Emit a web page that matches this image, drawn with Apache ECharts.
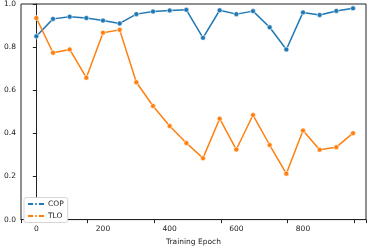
<!DOCTYPE html>
<html><head><meta charset="utf-8">
<script src="https://cdn.jsdelivr.net/npm/echarts@6/dist/echarts.min.js"></script>
<style>html,body{margin:0;padding:0;background:#fff}#c{width:374px;height:251px}</style>
</head><body><div id="c"></div>
<script>
const epochs = [0,50,100,150,200,250,300,350,400,450,500,550,600,650,700,750,800,850,900,950];
const cop = [0.850,0.931,0.941,0.935,0.923,0.910,0.953,0.965,0.970,0.973,0.843,0.971,0.953,0.967,0.892,0.789,0.961,0.949,0.968,0.980];
const tlo = [0.935,0.774,0.789,0.658,0.867,0.880,0.637,0.527,0.434,0.355,0.285,0.468,0.325,0.485,0.346,0.213,0.413,0.324,0.336,0.401];
const xTicks = [0,200,400,600,800];
const yTicks = [0,0.2,0.4,0.6,0.8,1.0];

const font = 'DejaVu Sans';
const chart = echarts.init(document.getElementById('c'), null, {renderer:'canvas'});
function mk(name, vals, color){
  return {name, type:'line', data: epochs.map((e,i)=>[e, vals[i]]),
    symbol:'circle', symbolSize:5, showSymbol:true,
    lineStyle:{color, width:1.5}, itemStyle:{color, borderColor:'#fff', borderWidth:0.6},
    emphasis:{disabled:true}, animation:false};
}
chart.setOption({
  animation:false,
  grid:{left:21, right:8, top:2.5, bottom:25, show:true, borderColor:'#222', borderWidth:1, backgroundColor:'#fff'},
  xAxis:{type:'value', min:-46, max:989, interval:200,
    name:'Training Epoch', nameLocation:'middle', nameGap:15.5,
    nameTextStyle:{fontFamily:font, fontSize:7.5, color:'#222'},
    axisLine:{show:true, lineStyle:{color:'#222', width:1}},
    axisTick:{show:true, length:3.5, lineStyle:{color:'#222'}},
    axisLabel:{fontFamily:font, fontSize:7.5, color:'#222', margin:5.5,
      customValues: xTicks, formatter: v=>String(v)},
    splitLine:{show:false}},
  yAxis:{type:'value', min:0, max:1, interval:0.2,
    axisLine:{show:true, lineStyle:{color:'#222', width:1}},
    axisTick:{show:true, length:3.5, lineStyle:{color:'#222'}},
    axisLabel:{fontFamily:font, fontSize:7.5, color:'#222', margin:5,
      formatter: v=>v.toFixed(1)},
    splitLine:{show:false}},
  legend:{left:24, top:197.5, orient:'vertical', itemGap:4, itemWidth:16, itemHeight:5,
    padding:[2.5,4,2.5,3], borderColor:'#ccc', borderWidth:0.8, borderRadius:2, backgroundColor:'#fff',
    textStyle:{fontFamily:font, fontSize:7.5, color:'#222', padding:[0,0,0,-1]},
    data:['COP','TLO']},
  series:[mk('COP', cop, '#1f77b4'), mk('TLO', tlo, '#ff7f0e')]
});
</script></body></html>
